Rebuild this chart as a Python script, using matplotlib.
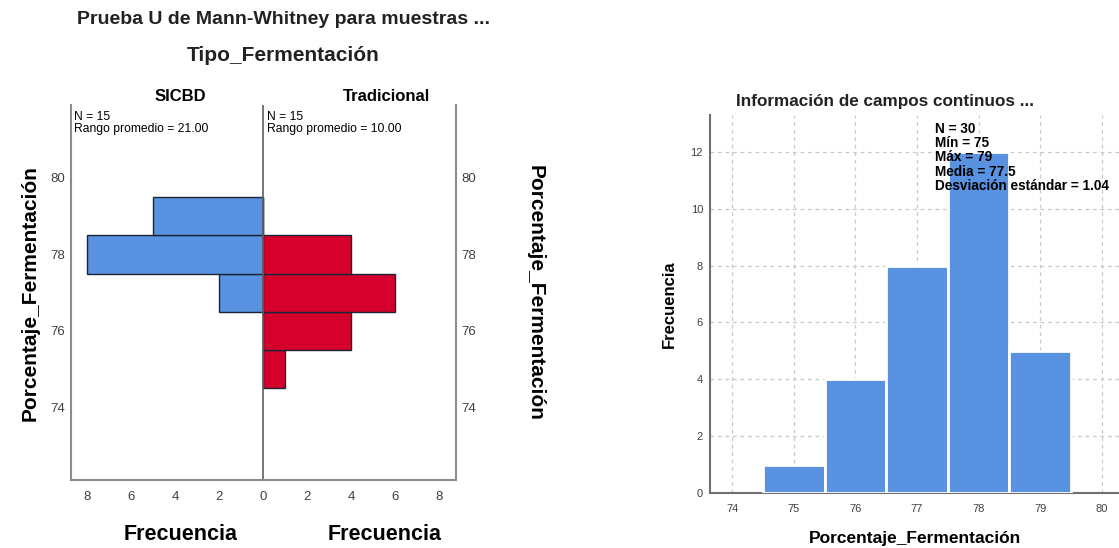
import matplotlib
matplotlib.use('Agg')
import matplotlib.pyplot as plt
import numpy as np

plt.rcParams['font.family'] = ['Liberation Sans', 'DejaVu Sans']

# frequency per bin of Porcentaje_Fermentacion
bins = [75, 76, 77, 78, 79]
sicbd = [0, 0, 2, 8, 5]
tradicional = [1, 4, 6, 4, 0]
total = [1, 4, 8, 12, 5]

stats_text = 'N = 30\nMín = 75\nMáx = 79\nMedia = 77.5\nDesviación estándar = 1.04'

blue = '#5892e0'
red = '#d5002b'
edge = '#1c2536'
frame = '#8c8c8c'

fig = plt.figure(figsize=(11.19, 5.48), dpi=100)

# population pyramid (left)
ax = fig.add_axes([0.0632, 0.124, 0.3443, 0.684])
ax.barh(bins, [-v for v in sicbd], height=1.0, color=blue, edgecolor=edge, linewidth=1.0)
ax.barh(bins, tradicional, height=1.0, color=red, edgecolor=edge, linewidth=1.0)
ax.axvline(0, color='#606060', lw=1.2)
ax.set_xlim(-8.75, 8.75)
ax.set_ylim(72.1, 81.9)
ax.spines['top'].set_visible(False)
for s in ['left', 'right', 'bottom']:
    ax.spines[s].set_color(frame)
    ax.spines[s].set_linewidth(1.5)
ax.set_xticks([-8, -6, -4, -2, 0, 2, 4, 6, 8])
ax.set_xticklabels(['8', '6', '4', '2', '0', '2', '4', '6', '8'])
ax.set_yticks([74, 76, 78, 80])
ax.tick_params(axis='both', length=0, labelsize=9.5, colors='#404040', pad=4)
ax.tick_params(axis='x', pad=8)
ax.tick_params(axis='y', labelright=True)
ax.set_ylabel('Porcentaje_Fermentación', fontsize=15, fontweight='bold', labelpad=8)
ax2 = ax.secondary_yaxis('right')
ax2.set_yticks([])
ax2.spines['right'].set_visible(False)
ax2.set_ylabel('Porcentaje_Fermentación', fontsize=15, fontweight='bold',
               rotation=270, labelpad=64)

ax.text(-8.6, 81.75, 'N = 15\nRango promedio = 21.00', fontsize=8.7, va='top', linespacing=0.95)
ax.text(0.15, 81.75, 'N = 15\nRango promedio = 10.00', fontsize=8.7, va='top', linespacing=0.95)
ax.text(-3.75, 82.0, 'SICBD', fontsize=12, fontweight='bold', ha='center')
ax.text(5.6, 82.0, 'Tradicional', fontsize=12, fontweight='bold', ha='center')

fig.text(0.253, 0.965, 'Prueba U de Mann-Whitney para muestras ...', fontsize=14,
         fontweight='bold', ha='center', va='center', color='#222222')
fig.text(0.253, 0.898, 'Tipo_Fermentación', fontsize=15, ha='center', va='center',
         fontweight='bold', color='#222222')
fig.text(0.161, 0.015, 'Frecuencia', fontsize=15.5, fontweight='bold', ha='center')
fig.text(0.344, 0.015, 'Frecuencia', fontsize=15.5, fontweight='bold', ha='center')

# histogram (right)
bx = fig.add_axes([0.6345, 0.1004, 0.3655, 0.69])
bx.bar(bins, total, width=1.0, color=blue, edgecolor='white', linewidth=2, zorder=3)
bx.set_xlim(73.64, 80.28)
bx.set_ylim(0, 13.3)
bx.set_xticks(range(74, 81))
bx.set_yticks(range(0, 13, 2))
bx.grid(True, ls=(0, (3, 3)), color='#c8c8c8', lw=0.9, zorder=0)
for s in ['top', 'right']:
    bx.spines[s].set_visible(False)
for s in ['left', 'bottom']:
    bx.spines[s].set_color('#707070')
    bx.spines[s].set_linewidth(1.5)
bx.tick_params(axis='both', length=0, labelsize=8, colors='#404040', pad=8)
bx.tick_params(axis='y', pad=5)
bx.set_ylabel('Frecuencia', fontsize=12, fontweight='bold', labelpad=10)
bx.set_xlabel('Porcentaje_Fermentación', fontsize=12.5, fontweight='bold', labelpad=12)
fig.text(0.791, 0.815, 'Información de campos continuos ...', fontsize=12.3,
         fontweight='bold', ha='center', va='center', color='#222222')
bx.text(77.29, 13.05, stats_text, fontsize=9.8, fontweight='bold', va='top',
        linespacing=1.02, zorder=4)

fig.savefig('out.png', dpi=100)
